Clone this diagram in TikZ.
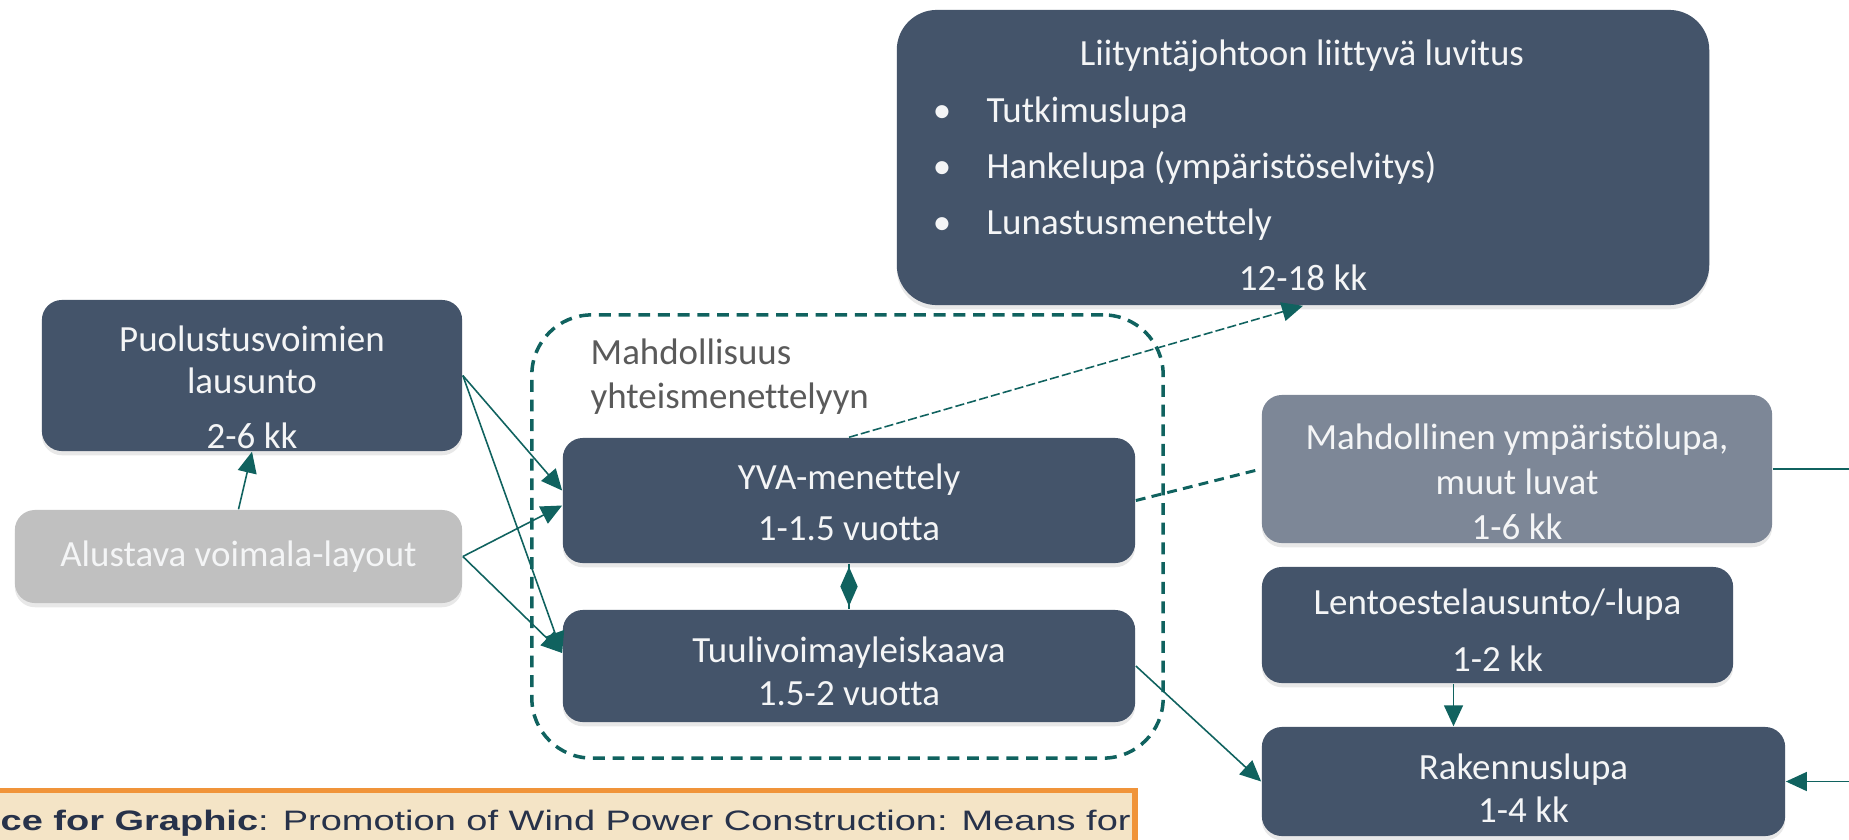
\documentclass[tikz,border=0pt]{standalone}
\usepackage{fontspec}
\setmainfont{Carlito}[Ligatures=NoCommon]
\newfontfamily\capfont[FakeStretch=1.35]{Liberation Sans}
\usetikzlibrary{arrows.meta,calc,shapes.geometric,shadows}
\definecolor{slate}{HTML}{44546A}
\definecolor{slatelight}{HTML}{7D8797}
\definecolor{layoutgray}{HTML}{C0C0C0}
\definecolor{boxtext}{HTML}{F4F5F6}
\definecolor{teal}{HTML}{10625F}
\definecolor{notegray}{HTML}{5A5A5A}
\definecolor{capfill}{HTML}{F4E4C6}
\definecolor{caporange}{HTML}{F0943A}
\definecolor{captext}{HTML}{27324A}

\tikzset{
  box/.style={rectangle, rounded corners=0.2cm, fill=slate, text=boxtext, align=center,
    inner sep=0pt, drop shadow={shadow xshift=0pt, shadow yshift=-1.2pt, opacity=0.18}},
  boxlbl/.style={text=boxtext, align=center, inner sep=0pt},
  boxtxt/.style={text=boxtext, inner sep=0pt, text height=0.68em, text depth=0.06em,
    font=\fontsize{10.5}{12.6}\selectfont},
  grpframe/.style={rectangle, rounded corners=0.6cm, draw=teal, line width=1pt,
    dash pattern=on 3.4pt off 2.2pt},
  link/.style={draw=teal, line width=0.45pt, -{Triangle[length=0.21cm,width=0.19cm]}},
  dashlink/.style={draw=teal, line width=0.85pt, dash pattern=on 2.8pt off 1.8pt},
  thinlink/.style={link, dash pattern=on 2.6pt off 0.9pt},
  dia/.style={diamond, fill=teal, inner sep=0pt, minimum width=0.18cm, minimum height=0.4cm}
}

\begin{document}
\begin{tikzpicture}[x=0.01cm,y=-0.01cm]
\useasboundingbox (0,0) rectangle (1849,839);
\clip (0,0) rectangle (1849,839);

% yhteismenettely
\node[grpframe, minimum width=6.31cm, minimum height=4.43cm] (grp) at (847.5,536.5) {};
\node[text=notegray, align=left, anchor=west, inner sep=0pt,
  font=\fontsize{10.5}{12.5}\selectfont] (grpnote) at (590,377) {Mahdollisuus\\yhteismenettelyyn};

% left column
\node[box, minimum width=4.2cm, minimum height=1.51cm] (puo) at (252,375.5) {};
\node[boxlbl, font=\fontsize{10.5}{11.9}\selectfont] (puotext) at ($(puo)+(0,12)$)
  {Puolustusvoimien\\lausunto\\[3.7pt]2-6 kk};
\node[box, fill=layoutgray, minimum width=4.47cm, minimum height=0.93cm,
  font=\fontsize{10.5}{12.6}\selectfont] (alu) at (238.5,556.5) {Alustava voimala-layout};

% middle
\node[box, minimum width=5.72cm, minimum height=1.25cm] (yva) at (849,500.5) {};
\node[boxlbl, font=\fontsize{10.5}{14.5}\selectfont] (yvatext) at ($(yva)+(0,2)$)
  {YVA-menettely\\1-1.5 vuotta};
\node[box, minimum width=5.72cm, minimum height=1.12cm] (tuu) at (849,666) {};
\node[boxlbl, font=\fontsize{10.5}{12.2}\selectfont] (tuutext) at ($(tuu)+(0,5)$)
  {Tuulivoimayleiskaava\\1.5-2 vuotta};

% liityntajohto
\node[box, rounded corners=0.4cm, minimum width=8.12cm, minimum height=2.95cm] (liit) at (1303,157.5) {};
\node[boxtxt] (liithead) at (1302,55) {Liityntäjohtoon liittyvä luvitus};
\foreach \t [count=\i] in {Tutkimuslupa,{Hankelupa (ympäristöselvitys)},Lunastusmenettely}{
  \node[boxtxt] (liitdot\i) at (942,56+56*\i) {\textbullet};
  \node[boxtxt, anchor=west] (liititem\i) at (986,56+56*\i) {\t};
}
\node[boxtxt] (liitkk) at (1303,280) {12-18 kk};

% right column
\node[box, fill=slatelight, minimum width=5.1cm, minimum height=1.48cm] (mahd) at (1517,469) {};
\node[boxlbl, font=\fontsize{10.5}{12.8}\selectfont] (mahdtext) at ($(mahd)+(0,13)$)
  {Mahdollinen ympäristölupa,\\muut luvat\\1-6 kk};
\node[box, minimum width=4.71cm, minimum height=1.16cm] (lent) at (1497.5,625) {};
\node[boxlbl, font=\fontsize{10.5}{16.2}\selectfont] (lenttext) at ($(lent)+(0,5)$)
  {Lentoestelausunto/-lupa\\1-2 kk};
\node[box, minimum width=5.23cm, minimum height=1.09cm] (rak) at (1523.5,781.5) {};
\node[boxlbl, font=\fontsize{10.5}{12.2}\selectfont] (raktext) at ($(rak)+(0,7)$)
  {Rakennuslupa\\1-4 kk};
\coordinate (rim) at (1890,469);

% connectors
\draw[link] (alu.north) -- (puo.south);
\draw[link] (puo.east) -- ($(yva.west)+(0,-10)$);
\draw[link] (puo.east) -- ($(tuu.west)+(0,-13)$);
\draw[link] (alu.east) -- ($(yva.west)+(0,5)$);
\draw[link] (alu.east) -- ($(tuu.west)+(0,-13)$);
\draw[draw=teal, line width=0.45pt] (yva.south) -- node[dia] (yvadia) {} (tuu.north);
\draw[thinlink] (yva.north) -- (liit.south);
\draw[dashlink] (yva.east) -- (mahd.west);
\draw[link] (tuu.east) -- (rak.west);
\draw[link] ($(lent.south)+(-44,0)$) -- ($(lent.south |- rak.north)+(-44,0)$);
\draw[link] (mahd.east) -- (rim) |- (rak.east);

% source note
\node[draw=caporange, fill=capfill, line width=1.7pt, minimum width=11.6cm, minimum height=0.75cm,
  inner sep=0pt] (capframe) at (555,828) {};
\node[text=captext, anchor=base west, inner sep=0pt, font=\capfont\fontsize{8}{9.6}\selectfont]
  (captxt) at (0,830) {\textbf{ce for Graphic}: Promotion of Wind Power Construction: Means for};
\end{tikzpicture}
\end{document}
